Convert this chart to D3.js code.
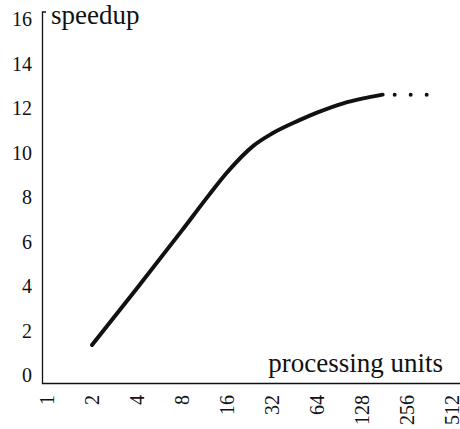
<!DOCTYPE html>
<html>
<head>
<meta charset="utf-8">
<script src="https://cdn.jsdelivr.net/npm/d3@7"></script>
<style>
  body { margin: 0; background: #fff; }
</style>
</head>
<body>
<svg id="chart" width="460" height="429"></svg>
<script>
// processing units (log2 axis) and speedup
const xTicks = [1, 2, 4, 8, 16, 32, 64, 128, 256, 512];
const yTicks = [0, 2, 4, 6, 8, 10, 12, 14, 16];
const units = [2, 4, 8, 12, 16, 24, 32, 48, 64, 96, 128, 176];
const speedup = [1.35, 3.9, 6.5, 8.05, 9.1, 10.3, 10.85, 11.43, 11.79, 12.21, 12.42, 12.6];
const tailUnits = [176, 360];
const tailSpeedup = [12.6, 12.6];

const serif = "Liberation Serif";

let svg = d3.select("#chart");

let x = d3.scaleLog().base(2).domain([1, 512]).range([47, 452]);
let y = d3.scaleLinear().domain([0, 16]).range([375, 19]);

// axes lines
svg.append("path")
  .attr("d", "M46,12H42.5V383.5H460")
  .attr("fill", "none")
  .attr("stroke", "#111")
  .attr("stroke-width", 1.3);

// y tick labels
svg.selectAll(".ytick").data(yTicks).enter().append("text")
  .attr("x", 32)
  .attr("y", d => y(d))
  .attr("dy", "0.35em")
  .attr("text-anchor", "end")
  .attr("font-family", serif)
  .attr("font-size", 20)
  .attr("fill", "#111")
  .text(d => d);

// x tick labels, rotated
svg.selectAll(".xtick").data(xTicks).enter().append("text")
  .attr("transform", d => `translate(${x(d)},395) rotate(-90)`)
  .attr("dy", "0.35em")
  .attr("text-anchor", "end")
  .attr("font-family", serif)
  .attr("font-size", 20)
  .attr("fill", "#111")
  .text(d => d);

// axis titles
svg.append("text")
  .attr("x", 51).attr("y", 24)
  .attr("font-family", serif)
  .attr("font-size", 27)
  .attr("fill", "#111")
  .text("speedup");

svg.append("text")
  .attr("x", 443).attr("y", 372)
  .attr("text-anchor", "end")
  .attr("font-family", serif)
  .attr("font-size", 27)
  .attr("fill", "#111")
  .text("processing units");

let line = d3.line()
  .x(d => x(d[0]))
  .y(d => y(d[1]))
  .curve(d3.curveMonotoneX);

svg.append("path")
  .datum(d3.zip(units, speedup))
  .attr("d", line)
  .attr("fill", "none")
  .attr("stroke", "#111")
  .attr("stroke-width", 4)
  .attr("stroke-linecap", "round");

svg.append("path")
  .datum(d3.zip(tailUnits, tailSpeedup))
  .attr("d", d3.line().x(d => x(d[0])).y(d => y(d[1])))
  .attr("fill", "none")
  .attr("stroke", "#111")
  .attr("stroke-width", 4)
  .attr("stroke-linecap", "round")
  .attr("stroke-dasharray", "0 16")
  .attr("stroke-dashoffset", 4);
</script>
</body>
</html>
